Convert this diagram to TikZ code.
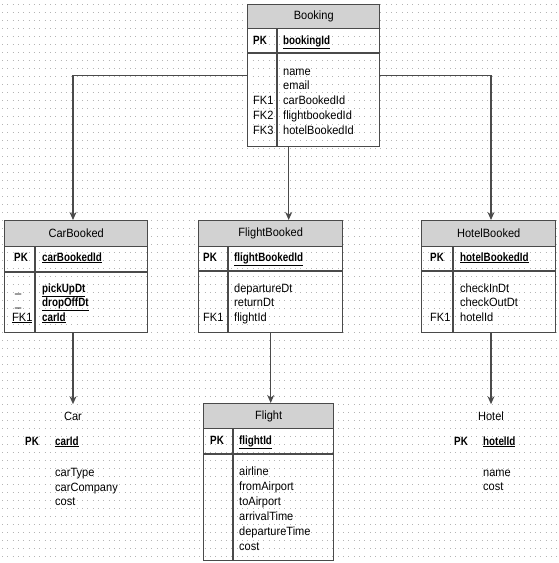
\documentclass[tikz,border=0pt]{standalone}
\usepackage{fontspec}
\setmainfont{Liberation Sans}[FakeStretch=0.92, BoldFeatures={FakeStretch=0.82}]
\usepackage{xcolor}
\usepackage{tikz}
\usetikzlibrary{arrows.meta}

\definecolor{framegray}{HTML}{4A4A4A}
\definecolor{headgray}{HTML}{D2D2D2}
\definecolor{dotgray}{HTML}{B4B4B4}

\begin{document}
\begin{tikzpicture}[x=1pt, y=-1pt,
        font = \fontsize{12}{14}\selectfont,
        gridrow/.style = {dotgray, line width=1pt, dash pattern=on 1pt off 4.33pt},
        table/.style = {draw=framegray, line width=1.4pt, inner sep=0pt, anchor=north west},
        head/.style = {table, fill=headgray},
        rule/.style = {draw=framegray, line width=1.4pt},
        field/.style = {inner sep=0pt, anchor=west, text height=8.7pt, text depth=2.5pt},
        key/.style = {field, font=\fontsize{12}{14}\selectfont\bfseries},
        pk/.style = {key},
        title/.style = {inner sep=0pt, text height=8.7pt, text depth=2.5pt},
        link/.style = {draw=framegray, line width=1.4pt, -{Stealth[length=8pt,width=7pt]}}
    ]
        \useasboundingbox (0,0) rectangle (559,563);
        \foreach \y in {4,12,...,563}
            \draw[gridrow] (2,\y) -- (559,\y);

        \node[table, minimum width=132pt, minimum height=142pt] (booking) at (247,4) {};
        \node[head, minimum width=132pt, minimum height=24pt] (booking-h) at (247,4) {Booking};
        \draw[rule] (247,53) -- (379,53);
        \draw[rule] (277,28) -- (277,146);
        \node[key] (booking-pk) at (253,41) {PK};
        \node[pk] (booking-id) at (283,41) {\underline{bookingId}};
        \node[field] (booking-f1) at (283,72) {name};
        \node[field] (booking-f2) at (283,86) {email};
        \node[field] (booking-k3) at (253,101) {FK1};
        \node[field] (booking-f3) at (283,101) {carBookedId};
        \node[field] (booking-k4) at (253,116) {FK2};
        \node[field] (booking-f4) at (283,116) {flightbookedId};
        \node[field] (booking-k5) at (253,131) {FK3};
        \node[field] (booking-f5) at (283,131) {hotelBookedId};

        \node[table, minimum width=143pt, minimum height=112pt] (carbooked) at (4,220) {};
        \node[head, minimum width=143pt, minimum height=26pt] (carbooked-h) at (4,220) {CarBooked};
        \draw[rule] (4,272) -- (147,272);
        \draw[rule] (35,246) -- (35,332);
        \node[key] (carbooked-pk) at (14,258) {PK};
        \node[pk] (carbooked-id) at (42,258) {\underline{carBookedId}};
        \node[field] (carbooked-k1) at (15,289) {\_};
        \node[pk] (carbooked-f1) at (42,289) {\underline{pickUpDt}};
        \node[field] (carbooked-k2) at (15,303) {\_};
        \node[pk] (carbooked-f2) at (42,303) {\underline{dropOffDt}};
        \node[field] (carbooked-k3) at (12,318) {\underline{FK1}};
        \node[pk] (carbooked-f3) at (42,318) {\underline{carId}};

        \node[table, minimum width=144pt, minimum height=112pt] (flightbooked) at (198,220) {};
        \node[head, minimum width=144pt, minimum height=26pt] (flightbooked-h) at (198,220) {FlightBooked};
        \draw[rule] (198,271) -- (342,271);
        \draw[rule] (228,246) -- (228,332);
        \node[key] (flightbooked-pk) at (203,258) {PK};
        \node[pk] (flightbooked-id) at (234,258) {\underline{flightBookedId}};
        \node[field] (flightbooked-f1) at (234,289) {departureDt};
        \node[field] (flightbooked-f2) at (234,303) {returnDt};
        \node[field] (flightbooked-k3) at (203,318) {FK1};
        \node[field] (flightbooked-f3) at (234,318) {flightId};

        \node[table, minimum width=134pt, minimum height=112pt] (hotelbooked) at (421,220) {};
        \node[head, minimum width=134pt, minimum height=26pt] (hotelbooked-h) at (421,220) {HotelBooked};
        \draw[rule] (421,271) -- (555,271);
        \draw[rule] (453,246) -- (453,332);
        \node[key] (hotelbooked-pk) at (430,258) {PK};
        \node[pk] (hotelbooked-id) at (460,258) {\underline{hotelBookedId}};
        \node[field] (hotelbooked-f1) at (460,289) {checkInDt};
        \node[field] (hotelbooked-f2) at (460,303) {checkOutDt};
        \node[field] (hotelbooked-k3) at (430,318) {FK1};
        \node[field] (hotelbooked-f3) at (460,318) {hotelId};

        \node[table, minimum width=130pt, minimum height=157pt] (flight) at (203,403) {};
        \node[head, minimum width=130pt, minimum height=25pt] (flight-h) at (203,403) {Flight};
        \draw[rule] (203,454) -- (333,454);
        \draw[rule] (233,428) -- (233,560);
        \node[key] (flight-pk) at (210,441) {PK};
        \node[pk] (flight-id) at (239,441) {\underline{flightId}};
        \node[field] (flight-f1) at (239,472) {airline};
        \node[field] (flight-f2) at (239,487) {fromAirport};
        \node[field] (flight-f3) at (239,502) {toAirport};
        \node[field] (flight-f4) at (239,517) {arrivalTime};
        \node[field] (flight-f5) at (239,532) {departureTime};
        \node[field] (flight-f6) at (239,547) {cost};

        \node[title] (car) at (73,417) {Car};
        \node[key] (car-pk) at (25,442) {PK};
        \node[pk] (car-id) at (55,442) {\underline{carId}};
        \node[field] (car-f1) at (55,473) {carType};
        \node[field] (car-f2) at (55,488) {carCompany};
        \node[field] (car-f3) at (55,502) {cost};

        \node[title] (hotel) at (491,417) {Hotel};
        \node[key] (hotel-pk) at (454,442) {PK};
        \node[pk] (hotel-id) at (483,442) {\underline{hotelId}};
        \node[field] (hotel-f1) at (483,473) {name};
        \node[field] (hotel-f2) at (483,487) {cost};

        \coordinate (booking-out) at ([xshift=-25pt]booking.south);
        \draw[link] (booking.west) -| (car.north |- carbooked.north);
        \draw[link] (booking.east) -| (hotel.north |- hotelbooked.north);
        \draw[link] (booking-out) -- (booking-out |- flightbooked.north);
        \draw[link, shorten >=7pt] (car.north |- carbooked.south) -- (car.north);
        \draw[link] (flightbooked.south) -- (flightbooked.south |- flight.north);
        \draw[link, shorten >=7pt] (hotel.north |- hotelbooked.south) -- (hotel.north);
    \end{tikzpicture}
\end{document}
